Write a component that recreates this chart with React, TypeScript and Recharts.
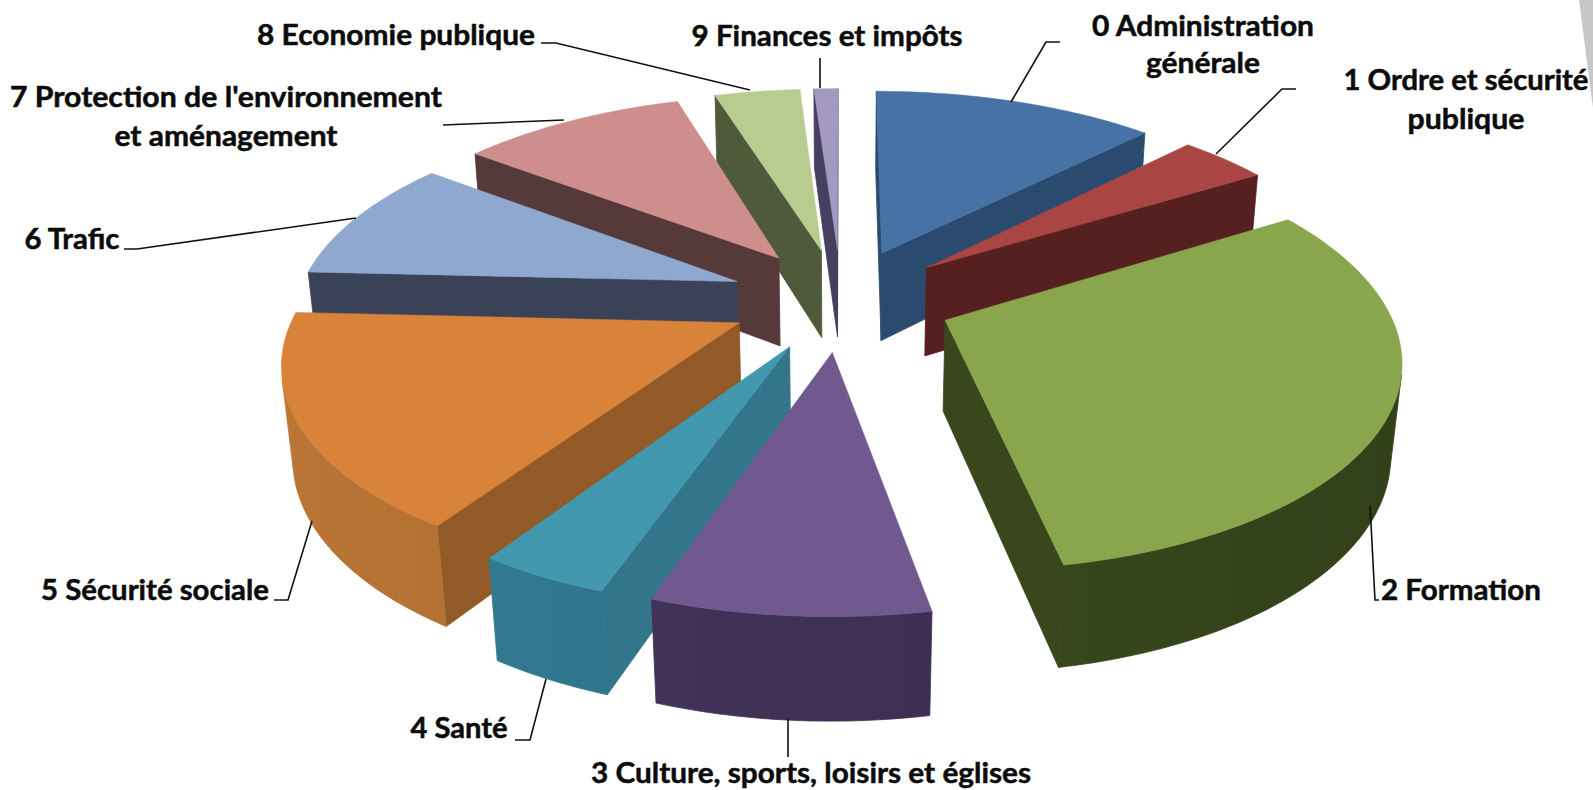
// Camembert 3D éclaté : Recharts calcule les angles, le shape projette chaque part en perspective.
import { PieChart, Pie } from "recharts";

const WIDTH = 1593;
const HEIGHT = 790;

const categories = [
  "0 Administration générale",
  "1 Ordre et sécurité publique",
  "2 Formation",
  "3 Culture, sports, loisirs et églises",
  "4 Santé",
  "5 Sécurité sociale",
  "6 Trafic",
  "7 Protection de l'environnement et aménagement",
  "8 Economie publique",
  "9 Finances et impôts",
];
const shares = [12.4, 3.9, 30.93, 8.3, 3.95, 16.6, 9.6, 9.9, 3.75, 1.05];

const topColors = ["#4672a6", "#a94643", "#8aa64d", "#71588f", "#4198af", "#d8823a", "#8fa8d0", "#ce8e8d", "#b8cc90", "#a499c0"];
const wallColors = ["#2a4a6e", "#572020", "#3a471d", "#3f3054", "#33758a", "#915a26", "#394257", "#563a3a", "#4f5a3a", "#454060"];
const outerColors = ["#2a4a6e", "#572020", "#38481c", "#3f3054", "#2f7187", "#a86a30", "#394257", "#563a3a", "#4f5a3a", "#454060"];

// Ordre de dessin : deux Pie partant du fond, pour que les parts de devant recouvrent celles de derrière.
const rightOrder = [0, 1, 2];
const leftOrder = [9, 8, 7, 6, 5, 4, 3];

// Étiquettes : lignes de texte [texte, centre x, ligne de base, largeur] et tracé du trait de rappel.
type LabelLine = [string, number, number, number];
const labelLines: LabelLine[][] = [
  [["0 Administration", 1203, 36, 222], ["générale", 1203, 73, 114]],
  [["1 Ordre et sécurité", 1466, 90, 245], ["publique", 1466, 129, 117]],
  [["2 Formation", 1461, 600, 160]],
  [["3 Culture, sports, loisirs et églises", 811, 783, 440]],
  [["4 Santé", 459, 738, 97]],
  [["5 Sécurité sociale", 155, 600, 228]],
  [["6 Trafic", 72, 249, 95]],
  [["7 Protection de l'environnement", 226, 107, 432], ["et aménagement", 226, 146, 223]],
  [["8 Economie publique", 396, 45, 278]],
  [["9 Finances et impôts", 827, 46, 271]],
];
const leaders = [
  "1060,42 1046,42 1011,102",
  "1296,89 1282,89 1216,154",
  "1370,505 1375,600 1379,600",
  "788,719 788,757",
  "546,679 530,740 515,740",
  "312,521 288,600 274,600",
  "356,218 137,249 124,249",
  "564,120 443,125",
  "750,90 556,43 541,43",
  "820,58 820,88",
];

// Caméra et volume
const TILT = (27.3 * Math.PI) / 180;
const DIST = 2411;
const THICK = 103;
const EXPLODE = 112;
const START_ANGLE = 90; // frontière entre "9 Finances et impôts" et "0 Administration générale"

const rad = (d: number) => (d * Math.PI) / 180;

function shadeColor(hex: string, k: number) {
  const n = parseInt(hex.slice(1), 16);
  const c = [(n >> 16) & 255, (n >> 8) & 255, n & 255].map((v) => Math.min(255, Math.round(v * k)));
  return `rgb(${c[0]},${c[1]},${c[2]})`;
}

// eslint-disable-next-line @typescript-eslint/no-explicit-any
function Slice3D(props: any) {
  const { cx, cy, outerRadius: R, startAngle, endAngle, name } = props;
  const i = categories.indexOf(name);
  // angles Recharts -> angle horaire depuis le fond
  const a1 = Math.min(90 - startAngle, 90 - endAngle);
  const a2 = Math.max(90 - startAngle, 90 - endAngle);
  const mid = rad((a1 + a2) / 2);
  const ox = EXPLODE * Math.sin(mid);
  const oy = -EXPLODE * Math.cos(mid);

  const project = (x: number, y: number, z: number): [number, number] => {
    const X = x + ox;
    const Y = y + oy;
    const s = DIST / (DIST - Y * Math.cos(TILT) - z * Math.sin(TILT));
    return [cx + X * s, cy + (Y * Math.sin(TILT) - z * Math.cos(TILT)) * s];
  };
  const rim = (deg: number, z: number) => project(R * Math.sin(rad(deg)), -R * Math.cos(rad(deg)), z);
  const apex = (z: number) => project(0, 0, z);
  const toPath = (pts: [number, number][]) =>
    "M" + pts.map((p) => `${p[0].toFixed(1)},${p[1].toFixed(1)}`).join("L") + "Z";
  const area = (pts: [number, number][]) =>
    pts.reduce((acc, p, k) => {
      const q = pts[(k + 1) % pts.length];
      return acc + p[0] * q[1] - q[0] * p[1];
    }, 0);

  const steps = Math.max(2, Math.ceil(a2 - a1));
  const angles = Array.from({ length: steps + 1 }, (_, k) => a1 + ((a2 - a1) * k) / steps);

  const wall = wallColors[i];
  const flats: string[] = [];
  const addFlat = (a: [number, number][]) => {
    if (area(a) < 0) flats.push(toPath(a));
  };
  addFlat([apex(0), rim(a1, 0), rim(a1, -THICK), apex(-THICK)]);
  addFlat([rim(a2, 0), apex(0), apex(-THICK), rim(a2, -THICK)]);

  // paroi extérieure : seulement la partie tournée vers la caméra, une seule forme avec dégradé
  const seen: number[] = [];
  for (let k = 0; k < steps; k++) {
    const q: [number, number][] = [rim(angles[k], 0), rim(angles[k + 1], 0), rim(angles[k + 1], -THICK), rim(angles[k], -THICK)];
    if (area(q) < 0) {
      if (!seen.length) seen.push(angles[k]);
      seen.push(angles[k + 1]);
    }
  }
  const gradId = `wall-grad-${i}`;
  let outer = null;
  if (seen.length) {
    const d = toPath([...seen.map((a) => rim(a, 0)), ...[...seen].reverse().map((a) => rim(a, -THICK))]);
    const xs = seen.map((a) => rim(a, 0)[0]);
    const x0 = xs[0];
    const x1 = xs[xs.length - 1];
    outer = (
      <>
        <defs>
          <linearGradient id={gradId} gradientUnits="userSpaceOnUse" x1={x0} y1={0} x2={x1 === x0 ? x0 + 1 : x1} y2={0}>
            {seen.map((a, k) => (
              <stop key={k} offset={x1 === x0 ? 0 : (xs[k] - x0) / (x1 - x0)} stopColor={shadeColor(outerColors[i], 1 - 0.12 * Math.sin(rad(a)))} />
            ))}
          </linearGradient>
        </defs>
        <path d={d} fill={`url(#${gradId})`} stroke={`url(#${gradId})`} strokeWidth={0.8} />
      </>
    );
  }
  const top = toPath([apex(0), ...angles.map((a) => rim(a, 0))]);

  return (
    <g>
      {flats.map((d, k) => (
        <path key={k} d={d} fill={wall} stroke={wall} strokeWidth={0.8} />
      ))}
      {outer}
      <path d={top} fill={topColors[i]} stroke={topColors[i]} strokeWidth={0.5} />
    </g>
  );
}

// eslint-disable-next-line @typescript-eslint/no-explicit-any
function renderLabel(props: any) {
  const i = categories.indexOf(props.name);
  return (
    <g key={i}>
      <polyline points={leaders[i]} fill="none" stroke="#111" strokeWidth={1.6} />
      {labelLines[i].map(([txt, x, y, w]) => (
        <text
          key={txt}
          x={x}
          y={y}
          textAnchor="middle"
          textLength={w}
          lengthAdjust="spacingAndGlyphs"
          fontFamily="Lato, 'Open Sans', sans-serif"
          fontWeight={700}
          fontSize={28}
          fill="#0c0c0c"
          stroke="#0c0c0c"
          strokeWidth={0.5}
        >
          {txt}
        </text>
      ))}
    </g>
  );
}

const toData = (order: number[]) => order.map((k) => ({ name: categories[k], value: shares[k] }));
const total = shares.reduce((a, b) => a + b, 0);
const sweep = (order: number[]) => (360 * order.reduce((a, k) => a + shares[k], 0)) / total;

export default function App() {
  const pieProps = {
    dataKey: "value",
    nameKey: "name",
    cx: 841,
    cy: 299,
    innerRadius: 0,
    outerRadius: 440,
    paddingAngle: 0,
    stroke: "none",
    shape: Slice3D,
    label: renderLabel,
    labelLine: false,
    isAnimationActive: false,
  };
  return (
    <div style={{ position: "absolute", left: 0, top: 0, width: WIDTH, height: HEIGHT, background: "#fff", overflow: "hidden" }}>
      <div
        style={{
          position: "absolute",
          left: 1579,
          top: 0,
          width: 14,
          height: 108,
          background: "#c8c8c8",
          clipPath: "polygon(0 0, 100% 0, 100% 100%)",
        }}
      />
      <PieChart width={WIDTH} height={HEIGHT} margin={{ top: 0, right: 0, bottom: 0, left: 0 }}>
        <Pie {...pieProps} data={toData(rightOrder)} startAngle={START_ANGLE} endAngle={START_ANGLE - sweep(rightOrder)} />
        <Pie {...pieProps} data={toData(leftOrder)} startAngle={START_ANGLE} endAngle={START_ANGLE + sweep(leftOrder)} />
      </PieChart>
    </div>
  );
}
